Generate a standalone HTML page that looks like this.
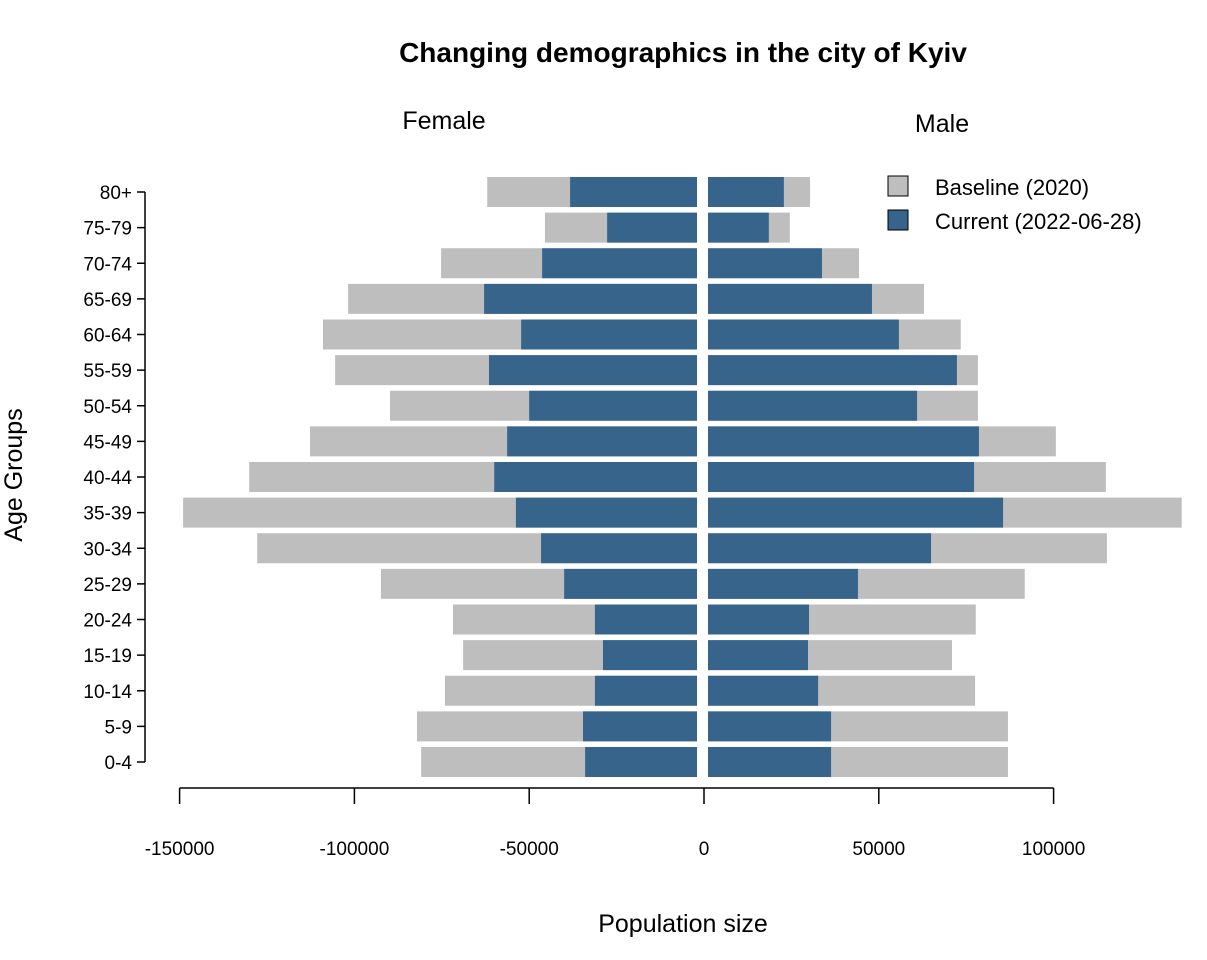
<!DOCTYPE html>
<html><head><meta charset="utf-8"><style>
html,body{margin:0;padding:0;background:#fff;}
svg{display:block;font-family:"Liberation Sans",Arial,sans-serif;}
</style></head><body>
<svg id="chart" width="1207" height="960" viewBox="0 0 1207 960">
<text x="683" y="62" text-anchor="middle" font-size="28" font-weight="bold">Changing demographics in the city of Kyiv</text>
<text x="444" y="129" text-anchor="middle" font-size="25">Female</text>
<text x="942" y="132" text-anchor="middle" font-size="25">Male</text>
<text x="683" y="932" text-anchor="middle" font-size="25">Population size</text>
<text transform="translate(22,475) rotate(-90)" text-anchor="middle" font-size="25">Age Groups</text>
<g id="bars"></g>
<g id="axes"></g>
<g>
<rect x="888" y="176" width="20" height="20" fill="#bebebe" stroke="#000"/>
<text x="935" y="195" font-size="22">Baseline (2020)</text>
<rect x="888" y="210" width="20" height="20" fill="#36648b" stroke="#000"/>
<text x="935" y="229" font-size="22">Current (2022-06-28)</text>
</g>
</svg>
<script>
const ageGroups = ["0-4","5-9","10-14","15-19","20-24","25-29","30-34","35-39","40-44","45-49","50-54","55-59","60-64","65-69","70-74","75-79","80+"];
const femaleBaseline = [78900,80100,72100,66900,69800,90400,125800,147000,128100,110700,87800,103500,107000,99800,73200,43500,60000];
const femaleCurrent = [32000,32600,29200,26900,29200,38000,44600,51800,58000,54300,48000,59500,50300,60900,44300,25700,36300];
const maleBaseline = [85800,85800,76400,69800,76600,90600,114100,135500,113800,99500,77200,77200,72300,61800,43200,23400,29200];
const maleCurrent = [35200,35200,31500,28600,28900,42900,63800,84400,76100,77500,59800,71200,54600,46900,32600,17400,21700];
const xTicks = [-150000,-100000,-50000,0,50000,100000];
const xTickLabels = ["-150000","-100000","-50000","0","50000","100000"];

const NS = "http://www.w3.org/2000/svg";
const scale = 174.8/50000;
const zeroX = 704, femaleOrigin = 697, maleOrigin = 708;
const xAxis = v => zeroX + v*scale;
const yAxis = i => 762 - i*(570/16);
const barH = 30;
const bars = document.getElementById("bars");
const axes = document.getElementById("axes");
function mk(tag, attrs, parent){const e=document.createElementNS(NS,tag);for(const k in attrs)e.setAttribute(k,attrs[k]);parent.appendChild(e);return e;}

ageGroups.forEach((g,i)=>{
  const y = yAxis(i)-barH/2;
  let r;
  r = mk("rect",{x:femaleOrigin-femaleBaseline[i]*scale,y:y,width:femaleBaseline[i]*scale,height:barH,fill:"#bebebe"},bars);
  
  
  r = mk("rect",{x:femaleOrigin-femaleCurrent[i]*scale,y:y,width:femaleCurrent[i]*scale,height:barH,fill:"#36648b"},bars);
  
  
  r = mk("rect",{x:maleOrigin,y:y,width:maleBaseline[i]*scale,height:barH,fill:"#bebebe"},bars);
  
  
  r = mk("rect",{x:maleOrigin,y:y,width:maleCurrent[i]*scale,height:barH,fill:"#36648b"},bars);
  
  
  const t = mk("line",{x1:137,x2:145,y1:yAxis(i),y2:yAxis(i),stroke:"#000","stroke-width":1.5},axes);
  
  
  const lb = mk("text",{x:132,y:yAxis(i)+7,"text-anchor":"end","font-size":19},axes);
  lb.textContent = g;
  
  
});
let yl = mk("line",{x1:145,x2:145,y1:yAxis(0),y2:yAxis(ageGroups.length-1),stroke:"#000","stroke-width":1.5},axes);


let xl = mk("line",{x1:xAxis(xTicks[0]),x2:xAxis(xTicks[xTicks.length-1]),y1:788,y2:788,stroke:"#000","stroke-width":1.5},axes);


xTicks.forEach((v,i)=>{
  const t = mk("line",{x1:xAxis(v),x2:xAxis(v),y1:788,y2:804,stroke:"#000","stroke-width":1.5},axes);
  
  
  const lb = mk("text",{x:xAxis(v),y:855,"text-anchor":"middle","font-size":19},axes);
  lb.textContent = xTickLabels[i];
  
  
});
</script>
</body></html>
